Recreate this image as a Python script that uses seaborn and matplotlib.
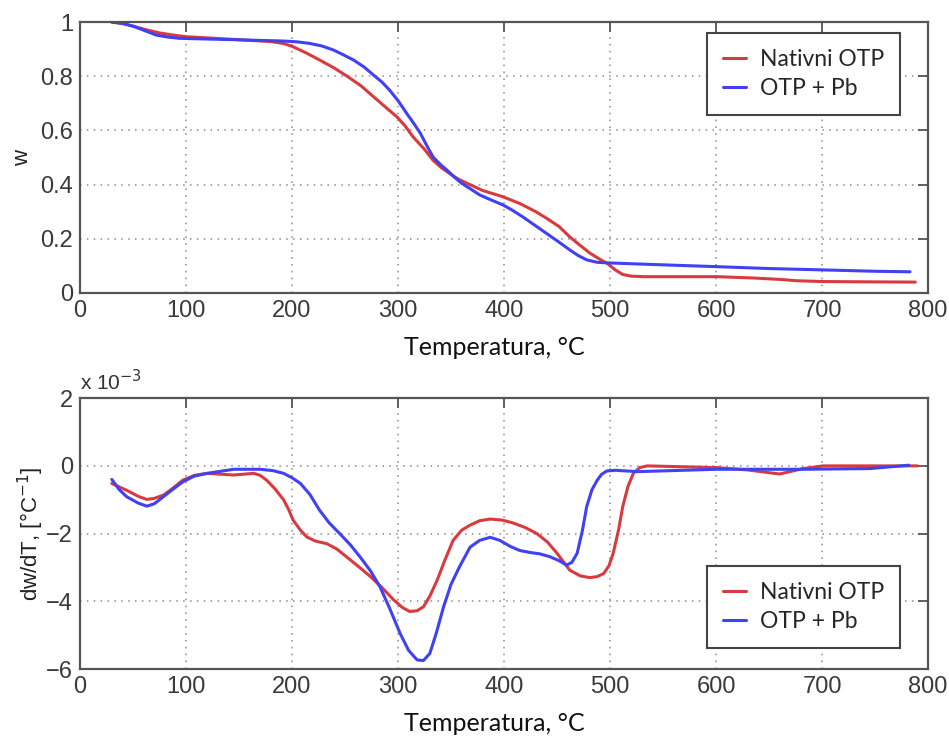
import numpy as np
import pandas as pd
import matplotlib
matplotlib.use("Agg")
import matplotlib.pyplot as plt
import seaborn as sns

# TG curves (w)
t_w_nat = [30, 40, 50, 62, 75, 88, 100, 145, 180, 192, 201, 214, 226, 240, 252, 265, 277, 290, 299, 307,
           314, 325, 333, 341, 349, 357, 365, 380, 399, 415, 430, 440, 452, 462, 472, 481, 490, 497, 505,
           512, 520, 531, 560, 601, 636, 660, 676, 701, 740, 788]
w_nat = [1.0, 0.995, 0.985, 0.972, 0.96, 0.952, 0.946, 0.936, 0.928, 0.921, 0.909, 0.885, 0.86, 0.83, 0.80,
         0.765, 0.724, 0.68, 0.65, 0.615, 0.577, 0.53, 0.49, 0.462, 0.44, 0.42, 0.405, 0.378, 0.355, 0.33,
         0.30, 0.276, 0.245, 0.207, 0.175, 0.147, 0.125, 0.11, 0.085, 0.068, 0.062, 0.06, 0.06, 0.06, 0.055,
         0.05, 0.045, 0.042, 0.041, 0.04]

t_w_pb = [30, 40, 50, 60, 72, 84, 94, 145, 192, 205, 217, 228, 239, 248, 258, 268, 277, 285, 292, 300,
          308, 315, 321, 327, 333, 340, 346, 353, 360, 368, 377, 388, 399, 408, 418, 429, 440, 451, 462,
          470, 478, 488, 497, 540, 601, 650, 701, 750, 783]
w_pb = [1.0, 0.995, 0.985, 0.97, 0.952, 0.944, 0.94, 0.935, 0.93, 0.927, 0.921, 0.912, 0.897, 0.88, 0.86,
        0.834, 0.804, 0.778, 0.749, 0.71, 0.664, 0.625, 0.59, 0.545, 0.502, 0.474, 0.454, 0.428, 0.405,
        0.385, 0.362, 0.343, 0.325, 0.305, 0.28, 0.25, 0.22, 0.19, 0.159, 0.138, 0.122, 0.113, 0.111,
        0.105, 0.097, 0.09, 0.085, 0.08, 0.078]

# DTG curves (dw/dT, in units of 1e-3)
t_d_nat = [30, 44, 55, 63, 70, 79, 88, 97, 108, 120, 145, 164, 170, 176, 184, 192, 197, 201, 208, 214,
           222, 233, 242, 252, 263, 274, 285, 296, 304, 311, 318, 324, 330, 337, 344, 352, 360, 368, 377,
           387, 398, 408, 420, 431, 441, 450, 462, 472, 481, 488, 494, 499, 503, 508, 512, 517, 522, 528,
           535, 601, 630, 660, 682, 701, 790]
d_nat = [-0.52, -0.72, -0.9, -0.99, -0.96, -0.86, -0.65, -0.42, -0.28, -0.22, -0.27, -0.22, -0.28, -0.42,
         -0.68, -1.0, -1.3, -1.6, -1.9, -2.1, -2.22, -2.3, -2.45, -2.7, -2.98, -3.27, -3.6, -3.96, -4.18,
         -4.3, -4.28, -4.16, -3.85, -3.37, -2.8, -2.2, -1.9, -1.75, -1.62, -1.57, -1.6, -1.68, -1.82, -2.0,
         -2.25, -2.58, -3.08, -3.25, -3.3, -3.27, -3.18, -2.95, -2.58, -1.9, -1.2, -0.6, -0.22, -0.05, 0.0,
         -0.05, -0.12, -0.24, -0.08, 0.0, 0.0]

t_d_pb = [30, 37, 44, 55, 63, 70, 75, 86, 97, 108, 120, 145, 170, 182, 192, 200, 208, 217, 226, 235, 245,
          255, 264, 274, 283, 292, 302, 310, 318, 324, 330, 336, 343, 350, 358, 368, 377, 387, 396, 406,
          415, 425, 434, 443, 452, 459, 464, 469, 474, 478, 483, 488, 492, 497, 505, 526, 601, 682, 745, 782]
d_pb = [-0.4, -0.7, -0.91, -1.1, -1.19, -1.12, -1.0, -0.73, -0.47, -0.3, -0.22, -0.1, -0.1, -0.14, -0.22,
        -0.35, -0.52, -0.85, -1.31, -1.68, -2.0, -2.33, -2.68, -3.1, -3.57, -4.2, -4.95, -5.45, -5.73,
        -5.75, -5.54, -4.95, -4.16, -3.5, -2.98, -2.4, -2.2, -2.11, -2.2, -2.38, -2.5, -2.56, -2.6, -2.68,
        -2.8, -2.93, -2.85, -2.58, -1.9, -1.2, -0.7, -0.42, -0.25, -0.15, -0.13, -0.17, -0.1, -0.1, -0.08,
        0.02]

labels = ["Nativni OTP", "OTP + Pb"]
x_ticks = [0, 100, 200, 300, 400, 500, 600, 700, 800]
red = "#d93a3e"
blue = "#4040f4"

sns.set_style("white")
plt.rcParams["font.family"] = ["Liberation Sans", "DejaVu Sans"]
txt_font = ["Lato", "DejaVu Sans"]
gray = "#555555"

fig = plt.figure(figsize=(9.49, 7.36), dpi=100)
ax1 = fig.add_axes([0.0843, 0.602, 0.8936, 0.368])
ax2 = fig.add_axes([0.0843, 0.091, 0.8936, 0.368])

sns.lineplot(x=t_w_nat, y=w_nat, ax=ax1, color=red, lw=2.2, label=labels[0], sort=False)
sns.lineplot(x=t_w_pb, y=w_pb, ax=ax1, color=blue, lw=2.2, label=labels[1], sort=False)
sns.lineplot(x=t_d_nat, y=d_nat, ax=ax2, color=red, lw=2.2, label=labels[0], sort=False)
sns.lineplot(x=t_d_pb, y=d_pb, ax=ax2, color=blue, lw=2.2, label=labels[1], sort=False)

ax1.set_ylim(0, 1)
ax1.set_yticks([0, 0.2, 0.4, 0.6, 0.8, 1])
ax1.set_yticklabels(["0", "0.2", "0.4", "0.6", "0.8", "1"])
ax2.set_ylim(-6, 2)
ax2.set_yticks([-6, -4, -2, 0, 2])
ax2.set_yticklabels(["\u22126", "\u22124", "\u22122", "0", "2"])

for ax in (ax1, ax2):
    ax.set_xlim(0, 800)
    ax.set_xticks(x_ticks)
    ax.grid(True, color="#8a8a8a", ls=(0, (1, 3.5)), lw=1.1)
    ax.tick_params(direction="in", length=7, width=1.3, color=gray, labelsize=17,
                   labelcolor="#3a3a3a", top=True, right=True, pad=5)
    for sp in ax.spines.values():
        sp.set_color(gray)
        sp.set_linewidth(1.6)
    ax.set_xlabel("Temperatura, \u00b0C", fontsize=18, family=txt_font, color="#111111", labelpad=10)
    ax.xaxis.label.set_x(0.489)

ax1.set_ylabel("w", fontsize=16, color="#222222", labelpad=5)
ax2.set_ylabel("dw/dT, [\u00b0C$^{-1}$]", fontsize=16, color="#222222", labelpad=0)
ax2.text(0.0, 1.015, "x 10$^{-3}$", transform=ax2.transAxes, fontsize=15, color="#333333",
         ha="left", va="bottom")

leg_kw = dict(frameon=True, fancybox=False, handlelength=1.0, handletextpad=0.6, borderaxespad=0,
              borderpad=0.7, labelspacing=0.35, prop={"family": txt_font, "size": 16.5})
leg1 = ax1.legend(loc="upper right", bbox_to_anchor=(0.967, 0.959), **leg_kw)
leg2 = ax2.legend(loc="lower right", bbox_to_anchor=(0.967, 0.077), **leg_kw)
for leg in (leg1, leg2):
    leg.get_frame().set_edgecolor("#444444")
    leg.get_frame().set_linewidth(1.5)
    leg.get_frame().set_alpha(1)

fig.savefig("out.png", dpi=100)
